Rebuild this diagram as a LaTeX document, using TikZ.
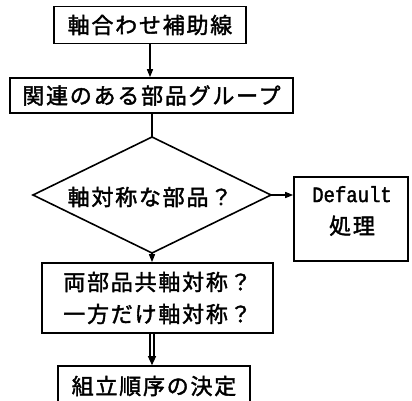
\documentclass[tikz,border=0pt]{standalone}
\usepackage{fontspec}
\newfontfamily\jp{Noto Sans CJK JP}[LetterSpace=8,FakeBold=1.8]
\newfontfamily\mono{Liberation Mono}[FakeStretch=0.86,FakeBold=1.5]
\usetikzlibrary{arrows.meta}
\begin{document}
\begin{tikzpicture}[x=1pt,y=-1pt,
  jpf/.style={font=\jp\fontsize{22}{32}\selectfont},
  box/.style={draw, line width=1.6pt, inner sep=0pt, jpf},
  conn/.style={line width=1.3pt},
  arr/.style={conn, -{Triangle[length=8pt,width=6pt]}}]
\useasboundingbox (0,0) rectangle (412,401);
\node[box, minimum width=192pt, minimum height=37pt] (b1) at (150,25) {軸合わせ補助線};
\node[box, minimum width=283pt, minimum height=35pt] (b2) at (151.5,95.5) {関連のある部品グループ};
% diamond
\coordinate (dn) at (152,137);
\coordinate (de) at (271,195);
\coordinate (ds) at (152,253);
\coordinate (dw) at (33,195);
\draw[line width=1.6pt, line join=miter] (dn) -- (de) -- (ds) -- (dw) -- cycle;
\node[jpf, inner sep=0pt] (d) at (150,197) {軸対称な部品？};
\node[box, minimum width=114pt, minimum height=84pt] (def) at (351,219) {};
\node[jpf, align=center, inner sep=0pt] (dt) at (352,211) {{\mono\fontsize{22}{32}\selectfont Default}\\処理};
\node[box, minimum width=231pt, minimum height=70pt, align=center] (b3) at (157.5,298) {両部品共軸対称？\\一方だけ軸対称？};
\node[box, minimum width=192pt, minimum height=40pt] (b4) at (154,386) {組立順序の決定};
\draw[arr] (b1.south) -- (b1.south |- b2.north);
\draw[conn] (b2.south -| dn) -- (dn);
\draw[arr] (de) -- (def.west |- de);
\draw[arr] (ds) -- (ds |- b3.north);
\draw[conn, double, double distance=2.5pt, -{Triangle[length=9pt,width=8pt]}] (b3.south -| ds) -- (b4.north -| ds);
\end{tikzpicture}
\end{document}
